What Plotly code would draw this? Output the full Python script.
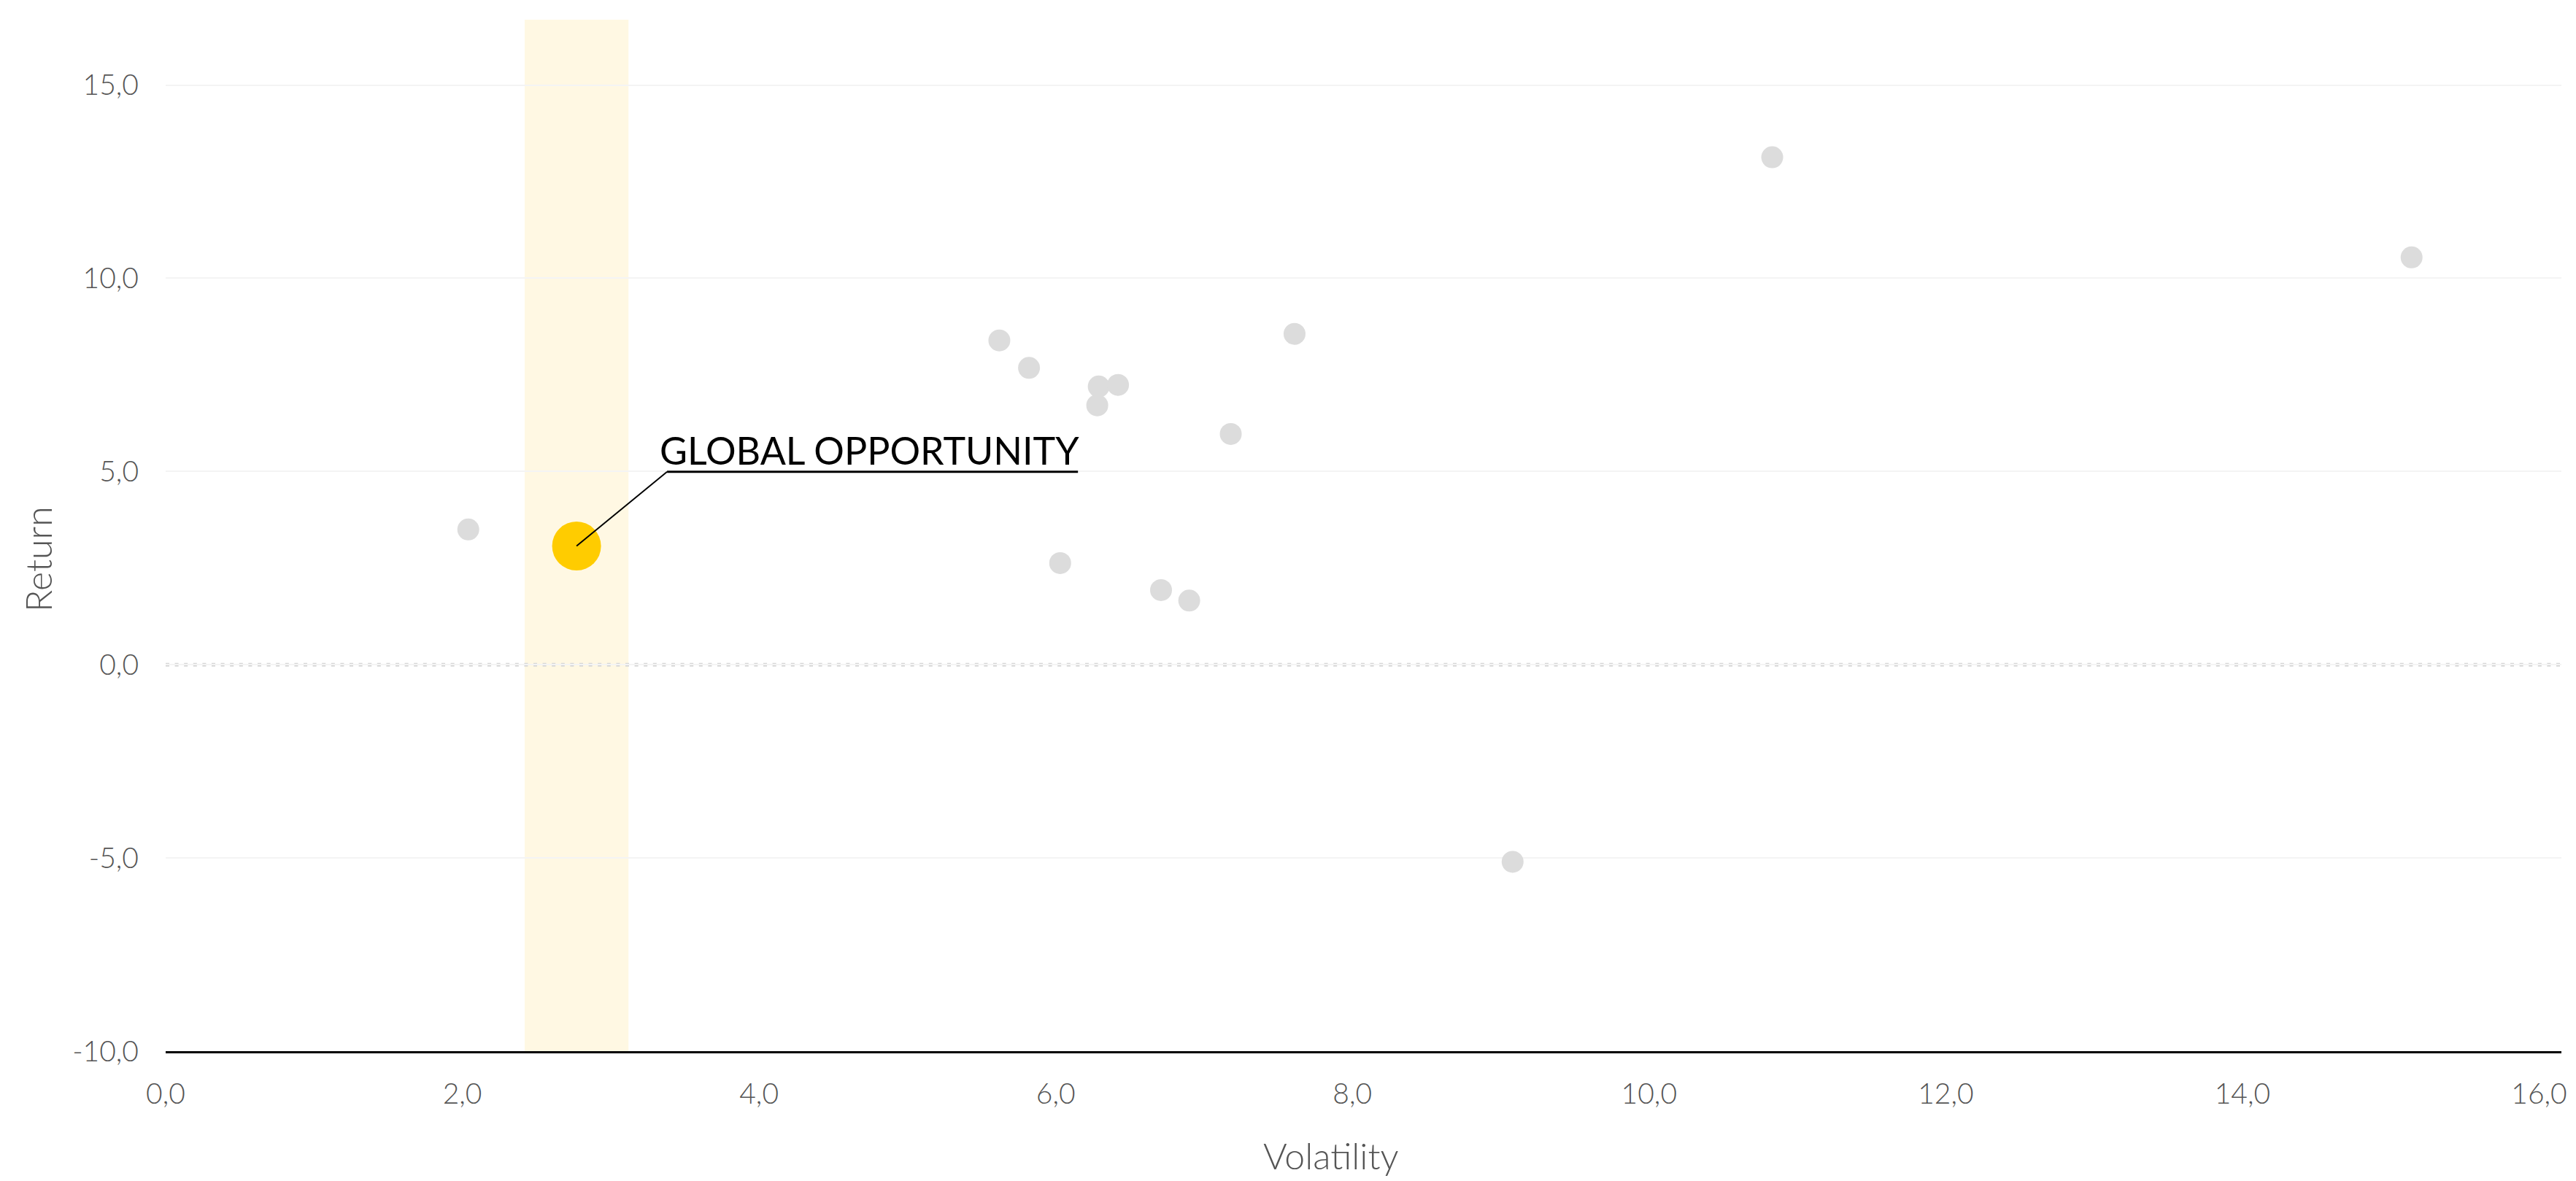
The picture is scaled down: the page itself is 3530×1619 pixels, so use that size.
import plotly.graph_objects as go

# ---- data ----
volatility = [2.04, 5.62, 5.82, 6.29, 6.42, 6.28, 7.18, 7.61, 6.03, 6.71, 6.90, 9.08, 10.83, 15.14]
returns = [3.50, 8.39, 7.68, 7.20, 7.24, 6.71, 5.97, 8.56, 2.63, 1.93, 1.66, -5.10, 13.13, 10.54]

highlight_name = "GLOBAL OPPORTUNITY"
highlight_vol = [2.77]
highlight_ret = [3.07]

x_tick_vals = [0, 2, 4, 6, 8, 10, 12, 14, 16]
x_tick_labels = ["0,0", "2,0", "4,0", "6,0", "8,0", "10,0", "12,0", "14,0", "16,0"]
y_tick_vals = [-10, -5, 0, 5, 10, 15]
y_tick_labels = ["-10,0", "-5,0", "0,0", "5,0", "10,0", "15,0"]

x_range = [0, 16.15]
y_range = [-10, 16.69]

FONT = "Lato"
TICK_COLOR = "#555555"

fig = go.Figure()

# highlight band around the highlighted fund
band_half = 0.35
fig.add_shape(type="rect", xref="x", yref="paper",
              x0=highlight_vol[0] - band_half, x1=highlight_vol[0] + band_half,
              y0=0, y1=1, fillcolor="#fff8e3", line=dict(width=0), layer="below")

# dotted zero line
fig.add_shape(type="line", xref="paper", yref="y", x0=0, x1=1, y0=0, y1=0,
              line=dict(color="#d6d6d6", width=5, dash="5px,7.6px"), layer="below")

fig.add_trace(go.Scatter(
    x=volatility, y=returns, mode="markers",
    marker=dict(size=30, color="#dcdcdc", line=dict(width=0)),
    hoverinfo="x+y", showlegend=False))

fig.add_trace(go.Scatter(
    x=highlight_vol, y=highlight_ret, mode="markers",
    marker=dict(size=67, color="#ffcc00", line=dict(width=0)),
    name=highlight_name, showlegend=False))

# leader line + underline
hx, hy = highlight_vol[0], highlight_ret[0]
elbow_dx, elbow_dy = 0.61, 1.92
under_len = 2.77
fig.add_shape(type="line", xref="x", yref="y", x0=hx, y0=hy, x1=hx + elbow_dx, y1=hy + elbow_dy,
              line=dict(color="black", width=2))
fig.add_shape(type="line", xref="x", yref="y", x0=hx + elbow_dx, y0=hy + elbow_dy,
              x1=hx + elbow_dx + under_len, y1=hy + elbow_dy,
              line=dict(color="black", width=3))
fig.add_annotation(x=hx + 0.55, y=hy + elbow_dy, xref="x", yref="y",
                   text=highlight_name, showarrow=False, xanchor="left", yanchor="bottom",
                   yshift=-3, font=dict(family=FONT, size=52, color="black"))

# axis titles
fig.add_annotation(x=0.4863, y=-0.101, xref="paper", yref="paper", text="Volatility",
                   showarrow=False, xanchor="center", yanchor="middle",
                   font=dict(family=FONT, size=50, color=TICK_COLOR, weight=300))
fig.add_annotation(x=-0.0535, y=0.477, xref="paper", yref="paper", text="Return",
                   showarrow=False, textangle=-90, xanchor="center", yanchor="middle",
                   font=dict(family=FONT, size=50, color=TICK_COLOR, weight=300))

fig.update_xaxes(range=x_range, tickvals=x_tick_vals, ticktext=x_tick_labels,
                 showgrid=False, zeroline=False, showline=True, linecolor="black", linewidth=3,
                 ticks="", ticklabelstandoff=22,
                 tickfont=dict(family=FONT, size=39, color=TICK_COLOR, weight=300))
fig.update_yaxes(range=y_range, tickvals=y_tick_vals, ticktext=y_tick_labels,
                 showgrid=True, gridcolor="#f4f4f4", gridwidth=2, zeroline=False, showline=False,
                 ticks="", ticklabelstandoff=36,
                 tickfont=dict(family=FONT, size=39, color=TICK_COLOR, weight=300))

fig.update_layout(width=3530, height=1619, margin=dict(l=227, r=17, t=27, b=178),
                  plot_bgcolor="white", paper_bgcolor="white", showlegend=False,
                  font=dict(family=FONT))

fig.write_html("out.html", config={"displayModeBar": False},
               post_script="document.body.style.margin='0';document.body.style.overflow='hidden';")
